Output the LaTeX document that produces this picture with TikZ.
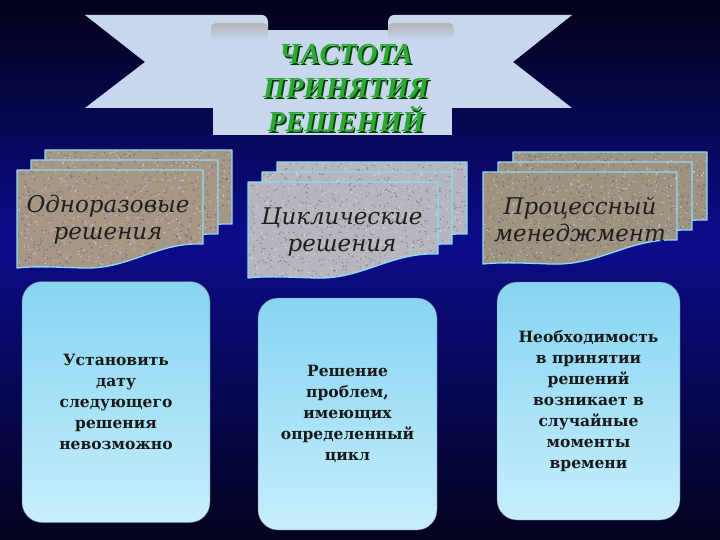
\documentclass[tikz,border=0pt]{standalone}
\usepackage{fontspec}
\setmainfont{DejaVu Serif}
\newfontfamily\titlefont{Liberation Serif}
\definecolor{bgtop}{RGB}{2,2,24}
\definecolor{bgmid}{RGB}{12,12,140}
\definecolor{bgbot}{RGB}{3,3,30}
\definecolor{bannerc}{RGB}{200,214,238}
\definecolor{titlegreen}{RGB}{44,168,52}
\definecolor{sandc}{RGB}{166,150,134}
\definecolor{grayc}{RGB}{182,182,190}
\definecolor{brownc}{RGB}{158,146,128}
\definecolor{boxtop}{RGB}{135,212,242}
\definecolor{boxbot}{RGB}{198,238,252}
\newcommand\sheet[5]{%
	\path[fill=#5] (#1,#2) -- ({#1+#3},#2) -- ({#1+#3},{#2+#4-24})
	.. controls ({#1+0.75*#3},{#2+#4-26}) and ({#1+0.6*#3},{#2+#4+2}) .. ({#1+0.35*#3},{#2+#4})
	.. controls ({#1+0.2*#3},{#2+#4-1}) and ({#1+0.1*#3},{#2+#4-2}) .. (#1,{#2+#4}) -- cycle;
	\begin{scope}
	\clip (#1,#2) -- ({#1+#3},#2) -- ({#1+#3},{#2+#4-24})
	.. controls ({#1+0.75*#3},{#2+#4-26}) and ({#1+0.6*#3},{#2+#4+2}) .. ({#1+0.35*#3},{#2+#4})
	.. controls ({#1+0.2*#3},{#2+#4-1}) and ({#1+0.1*#3},{#2+#4-2}) .. (#1,{#2+#4}) -- cycle;
	\foreach \i in {1,...,400} \fill[black!70,opacity=.45] ({#1+rnd*#3},{#2+rnd*#4}) circle (0.8);
	\foreach \i in {1,...,300} \fill[white,opacity=.5] ({#1+rnd*#3},{#2+rnd*#4}) circle (0.7);
	\end{scope}
	\draw[sheet] (#1,#2) -- ({#1+#3},#2) -- ({#1+#3},{#2+#4-24})
	.. controls ({#1+0.75*#3},{#2+#4-26}) and ({#1+0.6*#3},{#2+#4+2}) .. ({#1+0.35*#3},{#2+#4})
	.. controls ({#1+0.2*#3},{#2+#4-1}) and ({#1+0.1*#3},{#2+#4-2}) .. (#1,{#2+#4}) -- cycle;}
\begin{document}
\begin{tikzpicture}[x=1pt,y=-1pt,line join=round,line cap=round,
	sheet/.style={draw=cyan!45!white,line width=1.3pt},
	cardtxt/.style={font=\fontsize{23}{27}\selectfont\itshape,text=black!88,align=center},
	box/.style={rounded corners=20pt,top color=boxtop,bottom color=boxbot,draw=black!60,
		align=center,font=\fontsize{15.5}{21}\selectfont\bfseries,text=black!90,inner sep=0pt}]
	\useasboundingbox (0,0) rectangle (720,540);
	\shade[top color=bgtop,bottom color=bgmid] (0,0) rectangle (720,240);
	\shade[top color=bgmid,bottom color=bgbot] (0,240) rectangle (720,540);
	\fill[bannerc] (85,15) -- (262,15) to[out=0,in=90] (268,22) -- (268,108) -- (85,108) -- (145,62) -- cycle;
	\fill[bannerc] (572,15) -- (394,15) to[out=180,in=90] (388,22) -- (388,108) -- (572,108) -- (513,62) -- cycle;
	\fill[bannerc] (213,30) rectangle (452,135);
	\shade[top color=gray!60,bottom color=bannerc,rounded corners=5pt] (211,23) rectangle (268,40);
	\shade[top color=gray!60,bottom color=bannerc,rounded corners=5pt] (388,23) rectangle (454,40);
	\node[font=\titlefont\fontsize{29}{34}\selectfont\bfseries\itshape,text=green!25!black,align=center] at (347.5,89.5) {ЧАСТОТА\\ПРИНЯТИЯ\\РЕШЕНИЙ};
	\node[font=\titlefont\fontsize{29}{34}\selectfont\bfseries\itshape,text=titlegreen,align=center] (title) at (346,88) {ЧАСТОТА\\ПРИНЯТИЯ\\РЕШЕНИЙ};
	\foreach \x/\y/\w/\h/\c in {45/150/187/98/sandc,31/160/187/98/sandc,17/170/186/98/sandc,
		277/162/190/96/grayc,262/172/190/96/grayc,248/182/190/96/grayc,
		513/152/194/92/brownc,498/162/194/92/brownc,483/172/194/92/brownc}
		\sheet{\x}{\y}{\w}{\h}{\c};
	\node[cardtxt] (one) at (108,220) {Одноразовые\\решения};
	\node[cardtxt] (cyc) at (342,232) {Циклические\\решения};
	\node[cardtxt] (proc) at (580,220) {Процессный\\менеджмент};
	\node[box,minimum width=188pt,minimum height=241pt] (bone) at (116,402) {Установить\\дату\\следующего\\решения\\невозможно};
	\node[box,minimum width=179pt,minimum height=232pt] (bcyc) at (347.5,414) {Решение\\проблем,\\имеющих\\определенный\\цикл};
	\node[box,minimum width=183pt,minimum height=238pt] (bproc) at (588.5,401) {Необходимость\\в принятии\\решений\\возникает в\\случайные\\моменты\\времени};
\end{tikzpicture}
\end{document}
